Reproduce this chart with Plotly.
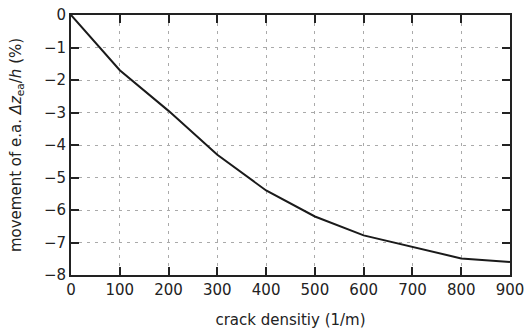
import plotly.graph_objects as go

crack_density = [0, 100, 200, 300, 400, 500, 600, 700, 800, 900]
movement = [0, -1.7, -2.95, -4.3, -5.4, -6.2, -6.78, -7.14, -7.49, -7.6]
x_ticks = [0, 100, 200, 300, 400, 500, 600, 700, 800, 900]
y_ticks = [0, -1, -2, -3, -4, -5, -6, -7, -8]

fig = go.Figure()
fig.add_trace(go.Scatter(x=crack_density, y=movement, mode="lines",
                         line=dict(color="#1a1a1a", width=2), showlegend=False))

axis_common = dict(
    showline=True, linecolor="#222222", linewidth=2, mirror="ticks",
    ticks="inside", ticklen=8, tickwidth=1.5, tickcolor="#222222",
    showgrid=True, gridcolor="#aaaaaa", griddash="3px,5px", gridwidth=1,
    zeroline=False, automargin=False,
    tickfont=dict(family="DejaVu Sans", size=15, color="#222222"),
)

fig.update_xaxes(range=[0, 900], tickvals=x_ticks,
                 title=dict(text="crack densitiy (1/m)", font=dict(family="DejaVu Sans", size=15, color="#222222"), standoff=20),
                 **axis_common)
fig.update_yaxes(range=[-8, 0], tickvals=y_ticks,
                 ticktext=["−" + str(-v) if v < 0 else str(v) for v in y_ticks],
                 title=dict(text="movement of e.a. <i>Δz</i><sub>ea</sub>/<i>h</i> (%)", font=dict(family="DejaVu Sans", size=15, color="#222222"), standoff=19),
                 **axis_common)

fig.update_layout(width=526, height=329, margin=dict(l=71, r=16, t=15, b=54, autoexpand=False),
                  plot_bgcolor="white", paper_bgcolor="white")
fig.write_html("out.html", config={"displayModeBar": False},
               post_script="document.body.style.margin='0';document.body.style.overflow='hidden';")
